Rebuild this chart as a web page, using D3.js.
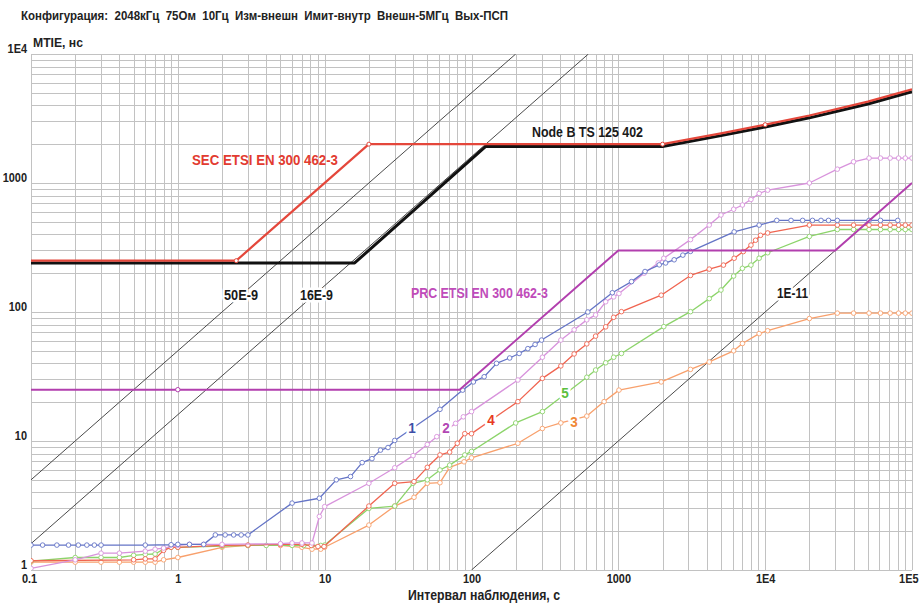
<!DOCTYPE html>
<html>
<head>
<meta charset="utf-8">
<script src="https://cdn.jsdelivr.net/npm/d3@7"></script>
<style>
  body { margin: 0; background: #fff; }
  svg { display: block; }
  text { font-family: "Liberation Sans", Arial, sans-serif; font-weight: bold; white-space: pre; }
</style>
</head>
<body>
<svg id="chart" width="922" height="604"></svg>
<script>
// ---- Text ----
const titleText = "Конфигурация:  2048кГц  75Ом  10Гц  Изм-внешн  Имит-внутр  Внешн-5МГц  Вых-ПСП";
const yTitle = "MTIE, нс";
const xTitle = "Интервал наблюдения, с";

// ---- Axis ticks ----
const xTicks = [0.1, 1, 10, 100, 1000, 1e4, 1e5];
const xTickLabels = ["0.1", "1", "10", "100", "1000", "1E4", "1E5"];
const yTicks = [1, 10, 100, 1000, 1e4];
const yTickLabels = ["1", "10", "100", "1000", "1E4"];

// ---- Masks (tau s, MTIE ns) ----
const maskSEC = [[0.1, 250], [2.5, 250], [20, 2000], [2000, 2000], [5000, 2427], [1e4, 2832], [2e4, 3339], [5e4, 4270], [1e5, 5330]];
const maskSECMarkers = [[2.5, 250], [20, 2000], [2000, 2000], [1e4, 2832]];
const maskNodeB = [[0.1, 240], [16, 240], [125, 1920], [2000, 1920], [5000, 2330], [1e4, 2720], [2e4, 3200], [5e4, 4100], [1e5, 5100]];
const maskPRC = [[0.1, 25], [1, 25], [83, 25], [1000, 300], [30000, 300], [1e5, 1000]];
const maskPRCMarkers = [[1, 25]];

// ---- Constant frequency offset lines ----
const offset50 = [[0.1, 5], [200, 1e4]];
const offset16 = [[0.1, 1.6], [625, 1e4]];
const offset1e11 = [[100, 1], [1e5, 1000]];

// ---- Measured MTIE curves ----
const curve1 = [[0.1, 1.56], [0.12, 1.56], [0.15, 1.56], [0.18, 1.56], [0.21, 1.56], [0.24, 1.56], [0.27, 1.56], [0.3, 1.56],
  [0.6, 1.56], [0.9, 1.57], [1.0, 1.58], [1.2, 1.58], [1.5, 1.58], [1.8, 1.87], [2.1, 1.87], [2.4, 1.87], [2.7, 1.87], [3.0, 1.87],
  [6.0, 3.3], [9.2, 3.6], [12, 5.0], [15, 5.3], [18, 6.8], [21, 7.3], [24, 8.5], [27, 8.9], [30, 10.1], [61, 17.6], [87, 24.8],
  [103, 28.7], [122, 31.5], [148, 40], [182, 44], [211, 47.7], [242, 52], [271, 56], [300, 60.6], [620, 100], [910, 141],
  [1230, 172], [1520, 206], [1900, 232], [2100, 240], [2400, 254], [2750, 276], [3100, 295], [6150, 418], [9100, 472],
  [12000, 513], [15000, 513], [18000, 513], [21000, 513], [24000, 513], [27000, 513], [31000, 513], [51000, 513], [61000, 513], [80000, 513]];
const curve2 = [[0.1, 1.03], [0.2, 1.2], [0.3, 1.35], [0.4, 1.35], [0.6, 1.4], [0.7, 1.45], [0.8, 1.48], [1.0, 1.55], [1.2, 1.58],
  [1.5, 1.58], [2, 1.58], [5, 1.6], [6, 1.62], [7, 1.62], [8.2, 1.62], [9.2, 2.6], [10, 3.1], [20, 4.7], [30, 6.2], [40, 7.7],
  [50, 9.4], [58, 10.8], [78, 13.7], [88, 15.4], [100, 16.9], [207, 29.7], [304, 44.6], [406, 60.6], [500, 72.8], [610, 86.9],
  [700, 95], [820, 120], [930, 131], [1010, 139], [1500, 200], [1870, 240], [2040, 261], [3100, 364], [4160, 472], [5000, 565],
  [6100, 626], [7000, 675], [8000, 745], [9100, 830], [10400, 880], [20000, 1000], [31000, 1280], [40000, 1460], [51000, 1560],
  [61000, 1560], [71000, 1560], [81000, 1560], [90000, 1560], [100000, 1560]];
const curve3 = [[0.1, 1.15], [0.2, 1.15], [0.3, 1.15], [0.4, 1.15], [0.5, 1.15], [0.6, 1.15], [0.7, 1.15], [0.8, 1.2], [1, 1.25],
  [2, 1.5], [3, 1.55], [5, 1.55], [7, 1.5], [8.2, 1.45], [9.4, 1.45], [10, 1.5], [20, 2.23], [30, 3.13], [40.6, 3.66], [50, 4.7],
  [61, 4.75], [71, 6.25], [89, 6.9], [100, 7.4], [207, 9.6], [304, 12.5], [406, 13.8], [610, 15.6], [800, 20.2], [1010, 24.8],
  [1960, 28.7], [3100, 35.9], [4160, 41], [6100, 50], [7000, 57], [9100, 68], [10400, 71.6], [20000, 89], [31000, 98],
  [40000, 98], [51000, 98], [61000, 98], [71000, 98], [81000, 98], [90000, 98], [100000, 98]];
const curve4 = [[0.1, 1.18], [0.5, 1.2], [0.6, 1.22], [0.7, 1.22], [0.8, 1.42], [0.9, 1.5], [1, 1.5], [2, 1.55], [3, 1.56],
  [5, 1.58], [7, 1.58], [8.1, 1.55], [9, 1.52], [9.9, 1.52], [20, 3.13], [30, 4.7], [40.6, 4.84], [50, 6.25], [61, 7.8],
  [71, 8.2], [80, 9.6], [90, 11.4], [100, 11.4], [207, 20.2], [304, 30.6], [406, 38.2], [500, 47.3], [610, 56.6], [700, 65],
  [820, 76.7], [930, 91], [1050, 100.6], [1960, 135], [3100, 192], [4160, 215], [5200, 231], [6150, 261], [7100, 294],
  [8000, 330], [8600, 360], [9300, 393], [10400, 410], [20000, 472], [31000, 472], [40000, 472], [51000, 472], [61000, 472],
  [71000, 472], [81000, 472], [90000, 472], [100000, 472]];
const curve5 = [[0.1, 1.17], [0.2, 1.25], [0.3, 1.25], [0.4, 1.25], [0.5, 1.3], [0.6, 1.32], [0.7, 1.33], [0.8, 1.45], [0.9, 1.5],
  [1, 1.5], [2, 1.53], [3, 1.55], [4, 1.55], [6, 1.55], [7.2, 1.55], [8.2, 1.55], [9.4, 1.55], [10, 1.56], [20, 3.0], [30, 3.13],
  [40, 4.7], [50, 5.0], [61, 5.96], [71, 6.5], [90, 7.8], [100, 8.3], [200, 13.8], [304, 16.9], [610, 31.2], [700, 35.5],
  [820, 40.4], [930, 44.6], [1050, 47.7], [2040, 77], [3100, 100.6], [4160, 127], [5000, 148], [6100, 190], [7000, 218],
  [8000, 231], [9100, 261], [10400, 288], [20000, 385], [31000, 436], [40000, 436], [51000, 436], [61000, 436], [71000, 436],
  [81000, 436], [90000, 436], [100000, 436]];

const curveNames = ["1", "2", "3", "4", "5"];

// ---- Drawing ----
const svg = d3.select("#chart");
const plotLeft = 31, plotRight = 912, plotTop = 54, plotBottom = 570;
const x = d3.scaleLog().domain([0.1, 1e5]).range([plotLeft, plotRight]);
const y = d3.scaleLog().domain([1, 1e4]).range([plotBottom, plotTop]);

// every 1..9 step of each decade for the grid
function decadeSteps(lo, hi) {
  const out = [];
  for (let p = lo; p < hi; p++) for (let m = 1; m <= 9; m++) out.push(m * Math.pow(10, p));
  out.push(Math.pow(10, hi));
  return out;
}

const gridColor = "#c2c2c2";
const gx = svg.append("g").attr("transform", `translate(0,${plotBottom})`)
  .call(d3.axisBottom(x).tickValues(decadeSteps(-1, 5)).tickSize(-(plotBottom - plotTop)).tickFormat(""));
const gy = svg.append("g").attr("transform", `translate(${plotLeft},0)`)
  .call(d3.axisLeft(y).tickValues(decadeSteps(0, 4)).tickSize(-(plotRight - plotLeft)).tickFormat(""));
[gx, gy].forEach(g => {
  g.select(".domain").remove();
  g.selectAll("line").attr("stroke", gridColor).attr("stroke-width", 1).attr("shape-rendering", "crispEdges");
});

// tick labels
function condense(sel, k) {
  sel.each(function () {
    const w = this.getComputedTextLength();
    d3.select(this).attr("textLength", w * k).attr("lengthAdjust", "spacingAndGlyphs");
  });
}
const ax = svg.append("g").attr("transform", `translate(0,${plotBottom})`)
  .call(d3.axisBottom(x).tickValues(xTicks).tickSize(0).tickPadding(4).tickFormat((d, i) => xTickLabels[i]));
const ay = svg.append("g").attr("transform", `translate(${plotLeft},0)`)
  .call(d3.axisLeft(y).tickValues(yTicks).tickSize(0).tickPadding(4).tickFormat((d, i) => yTickLabels[i]));
[ax, ay].forEach(g => {
  g.select(".domain").remove();
  g.attr("font-family", null).attr("font-size", null);
  g.selectAll("text").attr("font-size", 13).attr("fill", "#222");
});
ay.selectAll("text").attr("dy", null).attr("y", -2);
// first and last x labels kept inside the page edge
ax.selectAll("text").filter((d, i) => i === 0).attr("dx", -2);
ax.selectAll("text").filter((d, i) => i === xTicks.length - 1).attr("text-anchor", "end").attr("dx", 6);
condense(ax.selectAll("text"), 0.84);
condense(ay.selectAll("text"), 0.84);

svg.append("clipPath").attr("id", "plotClip").append("rect")
  .attr("x", plotLeft).attr("y", plotTop).attr("width", plotRight - plotLeft).attr("height", plotBottom - plotTop);
const plot = svg.append("g").attr("clip-path", "url(#plotClip)");

const line = d3.line().x(d => x(d[0])).y(d => y(d[1]));

// frequency offset lines
[offset50, offset16, offset1e11].forEach(d => {
  plot.append("path").datum(d).attr("d", line).attr("fill", "none")
    .attr("stroke", "#4a4a4a").attr("stroke-width", 1);
});

// measured curves
const curves = [
  { data: curve3, color: "#f8a06c" },
  { data: curve5, color: "#8cd46a" },
  { data: curve4, color: "#f06450" },
  { data: curve2, color: "#d893dc" },
  { data: curve1, color: "#6474c6" }
];
curves.forEach(c => {
  plot.append("path").datum(c.data).attr("d", line).attr("fill", "none")
    .attr("stroke", c.color).attr("stroke-width", 1.3).attr("stroke-linejoin", "round");
  plot.append("g").selectAll("circle").data(c.data).join("circle")
    .attr("cx", d => x(d[0])).attr("cy", d => y(d[1])).attr("r", 2.3)
    .attr("fill", "#fff").attr("stroke", c.color).attr("stroke-width", 0.9);
});

// masks
plot.append("path").datum(maskPRC).attr("d", line).attr("fill", "none")
  .attr("stroke", "#b23fae").attr("stroke-width", 2);
plot.append("g").selectAll("circle").data(maskPRCMarkers).join("circle")
  .attr("cx", d => x(d[0])).attr("cy", d => y(d[1])).attr("r", 2.2)
  .attr("fill", "#fff").attr("stroke", "#b23fae").attr("stroke-width", 1);
plot.append("path").datum(maskNodeB).attr("d", line).attr("fill", "none")
  .attr("stroke", "#111").attr("stroke-width", 3).attr("stroke-linejoin", "round");
plot.append("path").datum(maskSEC).attr("d", line).attr("fill", "none")
  .attr("stroke", "#e4473b").attr("stroke-width", 2.2).attr("stroke-linejoin", "round");
plot.append("g").selectAll("circle").data(maskSECMarkers).join("circle")
  .attr("cx", d => x(d[0])).attr("cy", d => y(d[1])).attr("r", 2)
  .attr("fill", "#fff").attr("stroke", "#e4473b").attr("stroke-width", 1);

// text helper
function label(str, px, py, opt) {
  const t = svg.append("text").attr("x", px).attr("y", py).text(str)
    .attr("font-size", opt.size).attr("fill", opt.color || "#222")
    .attr("text-anchor", opt.anchor || "start");
  if (opt.halo) t.attr("stroke", "#fff").attr("stroke-width", opt.halo).attr("paint-order", "stroke").attr("stroke-linejoin", "round");
  if (opt.w) t.attr("textLength", opt.w).attr("lengthAdjust", "spacingAndGlyphs");
  else if (opt.k) condense(t, opt.k);
  return t;
}

label(titleText, 21, 20, { size: 12.5, w: 487 });
label(yTitle, 33, 47, { size: 12.5, w: 50 });
label(xTitle, 408, 600, { size: 14, w: 152 });

label("SEC ETSI EN 300 462-3", 192, 165, { size: 15, w: 146, color: "#e23b30" });
label("Node B TS 125 402", 532, 137, { size: 15, w: 111, color: "#1a1a1a" });
label("PRC ETSI EN 300 462-3", 411, 298, { size: 15, w: 137, color: "#c04cba" });
label("50E-9", 224, 300, { size: 14, w: 34, color: "#1a1a1a", halo: 5 });
label("16E-9", 300, 300, { size: 14, w: 33, color: "#1a1a1a", halo: 5 });
label("1E-11", 777, 298, { size: 14, w: 31, color: "#1a1a1a", halo: 5 });

const curveLabelPos = [[412, 433], [446, 433], [574, 427], [491, 425], [565, 398]];
const curveLabelColors = ["#3e4fa8", "#b247b4", "#f08838", "#e83a22", "#5cc040"];
curveNames.forEach((n, i) => {
  label(n, curveLabelPos[i][0], curveLabelPos[i][1], { size: 15, color: curveLabelColors[i], anchor: "middle", halo: 6, k: 0.9 });
});
</script>
</body>
</html>
